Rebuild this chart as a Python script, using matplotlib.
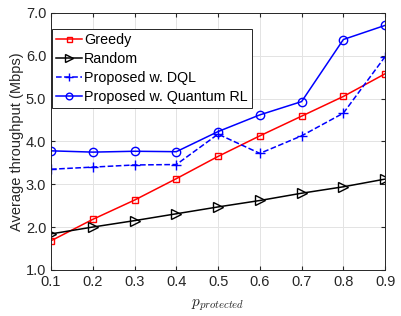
import matplotlib
matplotlib.use("Agg")
import matplotlib.pyplot as plt

p = [0.1, 0.2, 0.3, 0.4, 0.5, 0.6, 0.7, 0.8, 0.9]
greedy = [1.68, 2.18, 2.63, 3.13, 3.65, 4.13, 4.59, 5.05, 5.58]
random_ = [1.84, 2.00, 2.15, 2.31, 2.47, 2.62, 2.79, 2.94, 3.12]
dql = [3.35, 3.40, 3.45, 3.46, 4.17, 3.72, 4.13, 4.66, 5.98]
qrl = [3.78, 3.75, 3.77, 3.76, 4.23, 4.62, 4.93, 6.38, 6.71]

plt.rcParams['font.family'] = ['Liberation Sans', 'DejaVu Sans']
plt.rcParams['mathtext.fontset'] = 'cm'

fig = plt.figure(figsize=(4.02, 3.16), dpi=100)
ax = fig.add_axes([0.127, 0.146, 0.831, 0.813])

ax.plot(p, greedy, color='red', marker='s', ms=4.5, mfc='none', lw=1.1, label='Greedy')
ax.plot(p, random_, color='black', marker='>', ms=6.5, mfc='none', lw=1.1, label='Random')
ax.plot(p, dql, color='blue', marker='+', ms=7, ls='--', lw=1.1, label='Proposed w. DQL')
ax.plot(p, qrl, color='blue', marker='o', ms=6, mfc='none', lw=1.1, label='Proposed w. Quantum RL')

ax.set_xlim(0.1, 0.9)
ax.set_ylim(1.0, 7.0)
ax.set_xticks(p)
ax.set_xticklabels(['%.1f' % v for v in p])
ax.set_yticks([1, 2, 3, 4, 5, 6, 7])
ax.set_yticklabels(['%.1f' % v for v in [1, 2, 3, 4, 5, 6, 7]])
ax.grid(True, color='#e3e3e3', lw=0.7)
ax.set_axisbelow(True)
ax.tick_params(direction='in', top=True, right=True, labelsize=10.5, colors='#262626', length=3)
for s in ax.spines.values():
    s.set_color('#262626')
    s.set_linewidth(0.7)

ax.set_ylabel('Average throughput (Mbps)', fontsize=10.5, color='#262626', labelpad=1)
ax.set_xlabel(r'$p_{protected}$', fontsize=11, color='#262626', labelpad=6)

leg = ax.legend(loc='upper left', bbox_to_anchor=(0.003, 0.938), borderaxespad=0,
                fontsize=10.3, fancybox=False, framealpha=1, markerscale=0.8,
                edgecolor='#262626', handlelength=1.8, handletextpad=0.15,
                borderpad=0.3, labelspacing=0.35)
leg.get_frame().set_linewidth(0.7)

fig.savefig('out.png', dpi=100)
